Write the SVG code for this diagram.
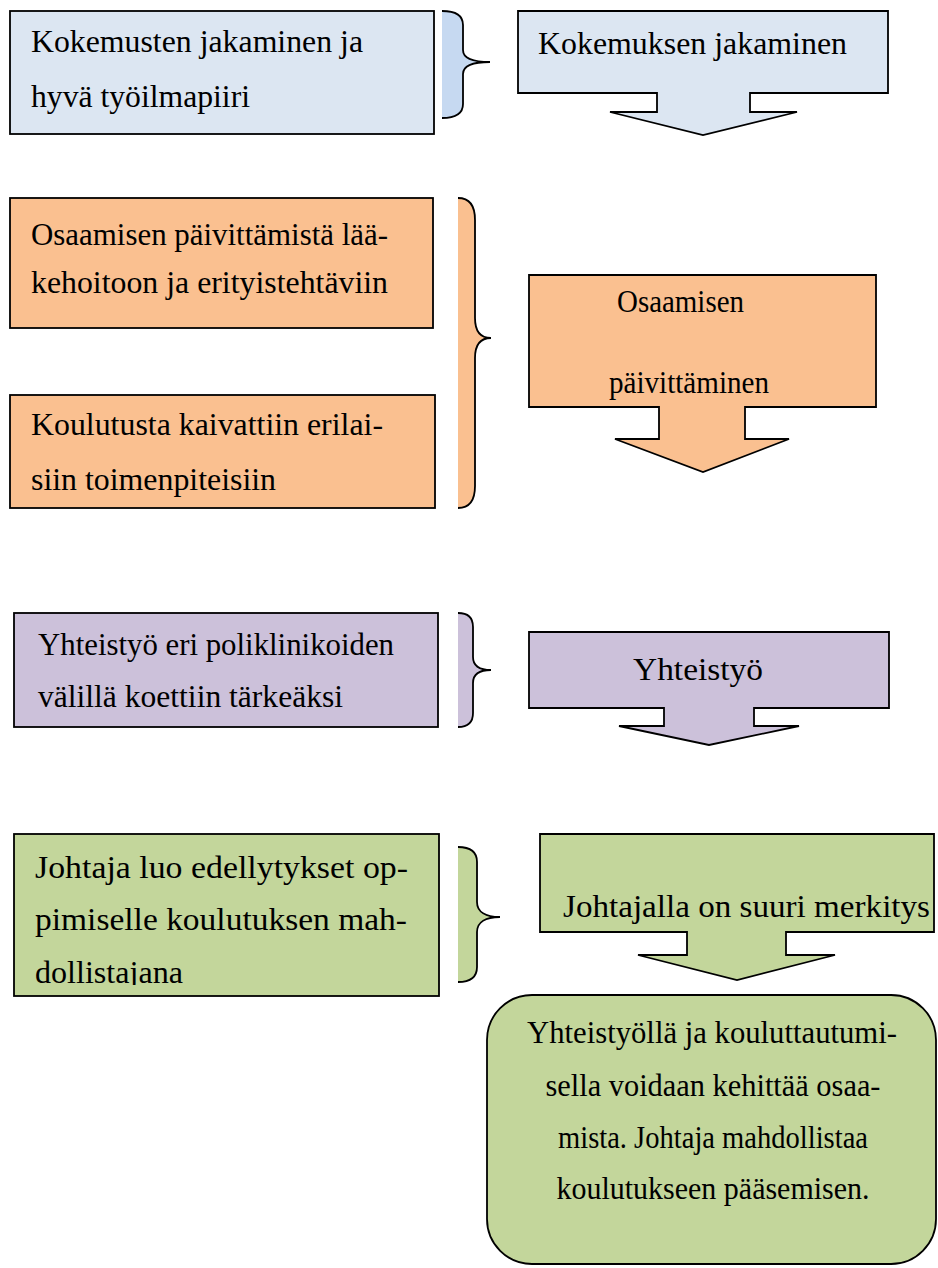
<svg xmlns="http://www.w3.org/2000/svg" width="938" height="1268" viewBox="0 0 938 1268">
  <style>
    .box { stroke: #000; stroke-width: 1.8; }
    .blue { fill: #DCE6F2; }
    .blue-brace { fill: #C6D9F1; }
    .orange { fill: #FAC090; }
    .purple { fill: #CCC1DA; }
    .green { fill: #C3D69B; }
    .brace-line { fill: none; stroke: #000; stroke-width: 1.8; }
    text { font-family: "Liberation Serif", "Times New Roman", serif; font-size: 31px; fill: #000; }
    .mid { text-anchor: middle; }
  </style>
  <defs>
    <clipPath id="clip-leader">
      <rect x="14" y="834" width="425" height="151"/>
    </clipPath>
  </defs>

  <rect width="938" height="1268" fill="#fff"/>

  <!-- Row 1: experience sharing -->
  <g id="n-kokemusten">
    <rect class="box blue" x="10" y="11" width="424" height="123"/>
    <text x="31" y="52" textLength="332" lengthAdjust="spacingAndGlyphs">Kokemusten jakaminen ja</text>
    <text x="31" y="107" textLength="219" lengthAdjust="spacingAndGlyphs">hyvä työilmapiiri</text>
  </g>
  <g id="n-kokemuksen">
    <path class="box blue" d="M518,11 H888 V93 H750 V112 H797 L703,135 L610,112 H657 V93 H518 Z"/>
    <text x="538" y="54" textLength="309" lengthAdjust="spacingAndGlyphs">Kokemuksen jakaminen</text>
  </g>

  <!-- Row 2: updating skills -->
  <g id="n-osaamisen-paivittamista">
    <rect class="box orange" x="10" y="198" width="423" height="130"/>
    <text x="31" y="245" textLength="357" lengthAdjust="spacingAndGlyphs">Osaamisen päivittämistä lää-</text>
    <text x="31" y="293" textLength="357" lengthAdjust="spacingAndGlyphs">kehoitoon ja erityistehtäviin</text>
  </g>
  <g id="n-koulutusta">
    <rect class="box orange" x="10" y="395" width="425" height="113"/>
    <text x="31" y="435" textLength="352" lengthAdjust="spacingAndGlyphs">Koulutusta kaivattiin erilai-</text>
    <text x="31" y="490" textLength="245" lengthAdjust="spacingAndGlyphs">siin toimenpiteisiin</text>
  </g>
  <g id="n-osaamisen-paivittaminen">
    <path class="box orange" d="M529,275 H876 V407 H745 V439 H789 L703,472 L615,439 H659 V407 H529 Z"/>
    <text x="617" y="312" textLength="127" lengthAdjust="spacingAndGlyphs">Osaamisen</text>
    <text x="609" y="393" textLength="160" lengthAdjust="spacingAndGlyphs">päivittäminen</text>
  </g>

  <!-- Row 3: cooperation -->
  <g id="n-yhteistyo-eri">
    <rect class="box purple" x="14" y="613" width="424" height="114"/>
    <text x="38" y="655" textLength="356" lengthAdjust="spacingAndGlyphs">Yhteistyö eri poliklinikoiden</text>
    <text x="38" y="707" textLength="305" lengthAdjust="spacingAndGlyphs">välillä koettiin tärkeäksi</text>
  </g>
  <g id="n-yhteistyo">
    <path class="box purple" d="M529,632 H889 V708 H754 V726 H799 L709,745 L619,726 H664 V708 H529 Z"/>
    <text x="633" y="680" textLength="130" lengthAdjust="spacingAndGlyphs">Yhteistyö</text>
  </g>

  <!-- Row 4: leadership -->
  <g id="n-johtaja-luo">
    <rect class="box green" x="14" y="834" width="425" height="162"/>
    <g clip-path="url(#clip-leader)">
      <text x="35" y="878" textLength="373" lengthAdjust="spacingAndGlyphs">Johtaja luo edellytykset op-</text>
      <text x="35" y="930" textLength="372" lengthAdjust="spacingAndGlyphs">pimiselle koulutuksen mah-</text>
      <text x="35" y="983" textLength="148" lengthAdjust="spacingAndGlyphs">dollistajana</text>
    </g>
  </g>
  <g id="n-johtajalla">
    <path class="box green" d="M540,834 H934 V932 H786 V955 H835 L737,980 L638,955 H687 V932 H540 Z"/>
    <text x="563" y="917" textLength="367" lengthAdjust="spacingAndGlyphs">Johtajalla on suuri merkitys</text>
  </g>

  <!-- Summary -->
  <g id="n-yhteenveto">
    <rect class="box green" x="487" y="995" width="449" height="269" rx="45" ry="45"/>
    <text class="mid" x="712" y="1043" textLength="370" lengthAdjust="spacingAndGlyphs">Yhteistyöllä ja kouluttautumi-</text>
    <text class="mid" x="713" y="1096" textLength="335" lengthAdjust="spacingAndGlyphs">sella voidaan kehittää osaa-</text>
    <text class="mid" x="713" y="1148" textLength="310" lengthAdjust="spacingAndGlyphs">mista. Johtaja mahdollistaa</text>
    <text class="mid" x="713" y="1199" textLength="313" lengthAdjust="spacingAndGlyphs">koulutukseen pääsemisen.</text>
  </g>

  <!-- Braces joining the detail boxes to their summary arrows -->
  <g id="connectors">
    <path class="blue-brace" d="M442,11 C456,11 463,15 463,25 V50 C463,58 472,62 490,62 C472,62 463,66 463,74 V104 C463,114 456,118 442,118 Z"/>
    <path class="brace-line" d="M442,11 C456,11 463,15 463,25 V50 C463,58 472,62 490,62 C472,62 463,66 463,74 V104 C463,114 456,118 442,118"/>

    <path class="orange" d="M458,198 C470,198 475,206 475,220 V318 C475,332 481,338 491,338 C481,338 475,344 475,358 V486 C475,500 470,508 458,508 Z"/>
    <path class="brace-line" d="M458,198 C470,198 475,206 475,220 V318 C475,332 481,338 491,338 C481,338 475,344 475,358 V486 C475,500 470,508 458,508"/>

    <path class="purple" d="M458,613 C468,613 473,617 473,627 V657 C473,666 480,670 491,670 C480,670 473,674 473,683 V713 C473,723 468,727 458,727 Z"/>
    <path class="brace-line" d="M458,613 C468,613 473,617 473,627 V657 C473,666 480,670 491,670 C480,670 473,674 473,683 V713 C473,723 468,727 458,727"/>

    <path class="green" d="M458,847 C470,847 477,851 477,862 V902 C477,912 486,917 500,917 C486,917 477,922 477,932 V967 C477,978 470,982 458,982 Z"/>
    <path class="brace-line" d="M458,847 C470,847 477,851 477,862 V902 C477,912 486,917 500,917 C486,917 477,922 477,932 V967 C477,978 470,982 458,982"/>
  </g>
</svg>
